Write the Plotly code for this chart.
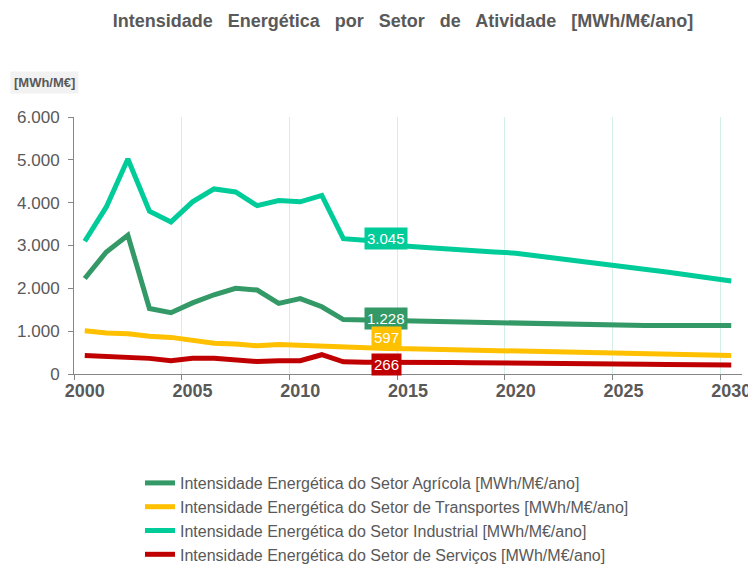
import plotly.graph_objects as go

years = list(range(2000, 2031))

agricola = [2230, 2850, 3240, 1530, 1430, 1660, 1850, 2000, 1960, 1650, 1760, 1570, 1270, 1260, 1228,
            1220, 1210, 1200, 1190, 1180, 1170, 1165, 1160, 1155, 1145, 1135, 1130, 1130, 1130, 1130, 1130]
transportes = [1010, 960, 940, 880, 855, 800, 720, 700, 660, 690, 670, 640, 620, 610, 597,
               590, 580, 575, 565, 555, 545, 535, 525, 515, 500, 485, 475, 460, 450, 440, 430]
industrial = [3100, 3900, 5020, 3800, 3550, 4020, 4320, 4250, 3930, 4050, 4020, 4170, 3160, 3120, 3045,
              2980, 2950, 2910, 2880, 2850, 2820, 2760, 2700, 2640, 2570, 2510, 2450, 2380, 2310, 2240, 2170]
servicos = [430, 410, 370, 365, 310, 365, 365, 340, 290, 310, 310, 450, 285, 275, 266,
            268, 268, 266, 265, 264, 263, 258, 253, 245, 240, 235, 230, 222, 216, 212, 210]

names = [
    "Intensidade Energética do Setor Agrícola [MWh/M€/ano]",
    "Intensidade Energética do Setor de Transportes [MWh/M€/ano]",
    "Intensidade Energética do Setor Industrial [MWh/M€/ano]",
    "Intensidade Energética do Setor de Serviços [MWh/M€/ano]",
]
series = [agricola, transportes, industrial, servicos]
colors = ["#339966", "#FFC000", "#00CC99", "#C00000"]
label_year = 2014
label_shift = [3, 11, 5, -2]

year_labels = [2000, 2005, 2010, 2015, 2020, 2025, 2030]
grid_positions = [1999.5, 2004.5, 2009.5, 2014.5, 2019.5, 2024.5, 2029.5]
y_ticks = [0, 1000, 2000, 3000, 4000, 5000, 6000]

title_text = "Intensidade Energética por Setor de Atividade [MWh/M€/ano]"
unit_text = "[MWh/M€]"

# page body has an 8px margin: figure is sized/placed to fit the 756x565 window
OFF = 8
W, H = 756 - OFF, 565 - OFF
PL, PR, PT, PB = 74, 742, 117, 374  # plot area in window pixels
pw, ph = PR - PL, PB - PT

fig = go.Figure()
for name, vals, col in zip(names, series, colors):
    fig.add_trace(go.Scatter(x=years, y=vals, name=name, mode="lines",
                             line=dict(color=col, width=5), hoverinfo="skip"))

idx = years.index(label_year)
for vals, col, sh in zip(series, colors, label_shift):
    v = vals[idx]
    txt = f"{v:,}".replace(",", ".")
    fig.add_annotation(x=label_year, y=v, text=txt, showarrow=False, yshift=sh,
                       bgcolor=col, borderpad=2,
                       font=dict(family="Liberation Sans, Arial", size=15, color="white"))

fig.add_annotation(xref="paper", yref="paper", x=(10 - PL) / pw, y=(PB - 82) / ph,
                   xanchor="left", yanchor="middle",
                   text="<b>" + unit_text + "</b>", showarrow=False, bgcolor="#F2F2F2", borderpad=3,
                   font=dict(family="Liberation Sans, Arial", size=13, color="#595959"))

fig.update_layout(
    width=W, height=H,
    margin=dict(l=PL - OFF, r=756 - PR, t=PT - OFF, b=H - (PB - OFF), autoexpand=False),
    paper_bgcolor="white", plot_bgcolor="white",
    separators=",.",
    title=dict(text="<b>" + title_text.replace(" ", "\u00a0\u00a0 ") + "</b>",
               x=(403 - OFF) / W, xanchor="center", y=1 - (21 - OFF) / H, yanchor="middle",
               font=dict(family="Liberation Sans, Arial", size=18, color="#595959")),
    showlegend=True,
    legend=dict(orientation="v", x=(140 - PL) / pw, xanchor="left",
                yref="container", y=1 - (466 - OFF) / H, yanchor="top",
                font=dict(family="Liberation Sans, Arial", size=16, color="#595959"),
                bgcolor="rgba(0,0,0,0)", tracegroupgap=0),
    xaxis=dict(range=[1999.5, 2030.5], tickmode="array", tickvals=year_labels,
               ticktext=[f"<b>{y}</b>" for y in year_labels],
               showgrid=False, showline=True, linecolor="#868686", linewidth=1,
               ticks="", zeroline=False, automargin=False,
               tickfont=dict(family="Liberation Sans, Arial", size=18, color="#595959"),
               minor=dict(tickmode="array", tickvals=grid_positions, ticks="outside", ticklen=5,
                          tickcolor="#868686", showgrid=True, gridcolor="#D3F0E6", gridwidth=1)),
    yaxis=dict(range=[0, 6000], tickmode="array", tickvals=y_ticks, tickformat=",d",
               showgrid=False, showline=True, linecolor="#868686", linewidth=1,
               ticks="outside", ticklen=5, tickcolor="#868686", zeroline=False,
               automargin=False, ticklabelstandoff=5,
               tickfont=dict(family="Liberation Sans, Arial", size=17, color="#595959")),
)

fig.write_html("out.html")
